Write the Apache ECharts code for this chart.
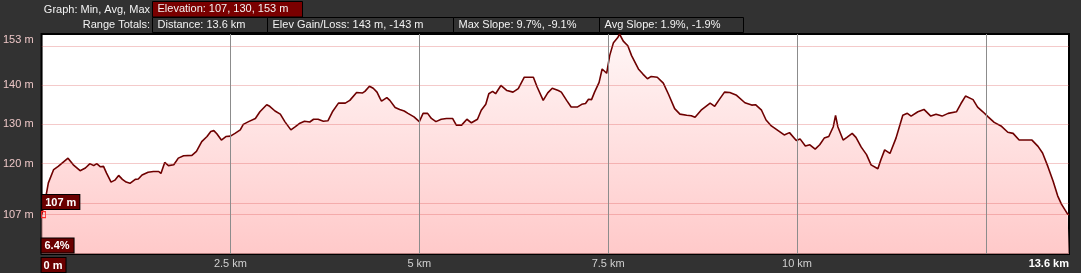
<!DOCTYPE html>
<html>
<head>
<meta charset="utf-8">
<script src="https://cdn.jsdelivr.net/npm/echarts@6/dist/echarts.min.js"></script>
<style>
html,body{margin:0;padding:0;background:#323232;}
#chart{width:1081px;height:273px;}
</style>
</head>
<body>
<div id="chart"></div>
<script>
// ---- data ----
const distKm = [0.00,0.05,0.09,0.16,0.22,0.35,0.42,0.51,0.58,0.64,0.69,0.73,0.78,0.82,0.86,0.92,0.97,1.02,1.07,1.12,1.17,1.24,1.28,1.33,1.41,1.48,1.55,1.58,1.63,1.68,1.75,1.81,1.88,1.99,2.05,2.12,2.19,2.24,2.28,2.32,2.38,2.44,2.50,2.56,2.63,2.67,2.74,2.83,2.89,2.98,3.02,3.09,3.16,3.22,3.30,3.36,3.42,3.48,3.55,3.60,3.66,3.73,3.79,3.85,3.93,4.02,4.08,4.17,4.25,4.28,4.34,4.39,4.44,4.48,4.50,4.57,4.61,4.68,4.74,4.80,4.85,4.93,5.00,5.05,5.11,5.16,5.22,5.29,5.36,5.44,5.49,5.56,5.63,5.69,5.77,5.82,5.88,5.92,5.97,6.01,6.08,6.16,6.24,6.31,6.39,6.51,6.56,6.64,6.70,6.76,6.84,6.88,6.95,7.01,7.09,7.15,7.20,7.24,7.28,7.32,7.38,7.42,7.48,7.52,7.57,7.63,7.65,7.70,7.76,7.81,7.90,7.96,8.02,8.07,8.15,8.23,8.30,8.38,8.45,8.54,8.60,8.65,8.73,8.85,8.91,8.97,9.04,9.11,9.20,9.31,9.40,9.45,9.53,9.59,9.66,9.75,9.83,9.90,9.99,10.04,10.11,10.17,10.24,10.30,10.36,10.42,10.48,10.51,10.54,10.61,10.66,10.73,10.78,10.85,10.92,10.98,11.07,11.11,11.16,11.23,11.31,11.40,11.46,11.51,11.60,11.68,11.77,11.84,11.92,12.00,12.11,12.17,12.23,12.33,12.39,12.46,12.53,12.61,12.70,12.79,12.86,12.94,13.01,13.11,13.19,13.25,13.32,13.39,13.45,13.50,13.58,13.60];
const elevM = [107.0,110.9,115.1,118.5,119.3,121.4,119.7,118.2,118.9,120.0,119.5,120.0,119.2,119.3,117.6,115.3,115.8,117.0,116.0,115.3,115.0,116.0,116.1,117.1,117.8,118.0,118.0,117.5,120.3,119.5,119.7,121.4,122.0,122.1,123.1,125.6,126.9,128.2,128.4,127.6,126.0,126.9,127.0,127.7,128.6,130.0,130.7,131.5,133.2,135.0,134.6,133.4,132.6,130.7,128.6,129.4,130.3,130.8,130.6,131.3,131.3,130.8,130.9,133.2,135.4,135.4,136.1,138.1,138.0,138.4,139.7,139.2,138.2,136.6,135.9,136.8,136.1,134.3,133.8,133.4,132.8,131.9,130.7,132.8,132.8,131.5,130.7,131.3,131.5,131.5,129.8,129.8,131.3,130.4,131.3,133.6,135.1,137.8,138.4,137.8,139.9,138.6,138.2,139.1,142.0,142.0,139.5,136.1,138.0,139.2,138.6,138.2,136.1,134.4,134.4,135.1,135.3,136.4,136.3,138.2,140.7,144.1,143.0,147.5,150.8,152.2,153.0,151.2,150.0,147.5,144.1,142.8,141.6,142.2,142.0,140.5,137.6,134.0,132.6,132.3,132.2,131.8,133.6,135.4,134.6,136.3,138.2,138.1,137.4,135.5,134.9,135.0,133.6,131.1,129.6,128.4,127.3,127.9,125.9,126.3,124.5,124.8,123.7,124.8,126.5,126.9,129.4,132.3,129.4,126.0,126.7,127.7,126.7,124.2,122.3,119.7,118.7,121.0,123.5,122.6,126.5,132.3,132.8,132.1,133.2,133.8,132.1,132.6,132.1,132.8,133.2,135.3,137.2,136.3,134.4,133.2,131.9,130.5,129.6,128.0,127.7,126.0,126.0,126.0,124.4,122.7,119.3,115.5,111.8,109.7,107.2,107.0];
const yTickLabels = [107, 120, 130, 140, 153];
const yGridValues = [107, 110, 120, 130, 140, 150];
const xTickLabels = [0, 2.5, 5, 7.5, 10, 13.6];
const xGridValues = [2.5, 5, 7.5, 10, 12.5];
const headerRow1Label = 'Graph: Min, Avg, Max';
const headerRow1Boxes = ['Elevation: 107, 130, 153 m'];
const headerRow2Label = 'Range Totals:';
const headerRow2Boxes = ['Distance: 13.6 km', 'Elev Gain/Loss: 143 m, -143 m', 'Max Slope: 9.7%, -9.1%', 'Avg Slope: 1.9%, -1.9%'];
const slopeLabel = '6.4%';

// ---- chart ----
const FONT = '"Liberation Sans", Arial, sans-serif';
const chart = echarts.init(document.getElementById('chart'), null, {renderer: 'canvas'});
const series = distKm.map((d, i) => [d, elevM[i]]);

function boxGroup(labels, widths, x0, y, h, fill) {
  const els = [];
  let x = x0;
  labels.forEach((t, i) => {
    els.push({type: 'rect', shape: {x: x, y: y, width: widths[i], height: h},
      style: {fill: fill[i], stroke: '#000', lineWidth: 1}, silent: true});
    els.push({type: 'text', x: x + 5, y: y + h / 2,
      style: {text: t, fill: '#f2f2f2', font: '11px ' + FONT, verticalAlign: 'middle'}, silent: true});
    x += widths[i];
  });
  return els;
}

const gridLines = yGridValues.map(v => ({yAxis: v, lineStyle: {color: 'rgba(220,80,80,0.3)', width: 1, type: 'solid'}}))
  .concat(xGridValues.map(v => ({xAxis: v, lineStyle: {color: '#8c8c8c', width: 1, type: 'solid'}})));

const option = {
  backgroundColor: '#323232',
  animation: false,
  grid: {left: 41, right: 12, top: 34, bottom: 18, show: true, backgroundColor: '#ffffff', borderColor: '#000', borderWidth: 2},
  xAxis: {
    type: 'value', min: 0, max: 13.6,
    axisLine: {show: false}, axisTick: {show: false}, splitLine: {show: false},
    axisLabel: {
      customValues: xTickLabels,
      margin: 4,
      alignMinLabel: 'left', alignMaxLabel: 'right',
      fontFamily: FONT, fontSize: 11, color: '#d0d0d0',
      formatter: v => v === 0 ? '{z|0 m}' : (v === 13.6 ? '{e|' + v + ' km}' : v + ' km'),
      rich: {
        z: {color: '#fff', fontWeight: 'bold', fontSize: 11, fontFamily: FONT, backgroundColor: '#6a0000', borderColor: '#000', borderWidth: 1, padding: [2, 3, 1, 2]},
        e: {color: '#fff', fontWeight: 'bold', fontSize: 11, fontFamily: FONT}
      }
    }
  },
  yAxis: {
    type: 'value', min: 97, max: 153,
    axisLine: {show: false}, axisTick: {show: false}, splitLine: {show: false},
    axisLabel: {
      customValues: yTickLabels,
      margin: 8,
      verticalAlignMaxLabel: 'top',
      fontFamily: FONT, fontSize: 11, color: '#ecc6c6',
      formatter: '{value} m'
    }
  },
  series: [{
    type: 'line',
    data: series,
    symbol: 'none',
    smooth: false,
    lineStyle: {color: '#6e0000', width: 1.6},
    areaStyle: {
      origin: 'start',
      color: new echarts.graphic.LinearGradient(0, 0, 0, 1, [
        {offset: 0, color: '#fff3f3'},
        {offset: 1, color: '#ffb2b2'}
      ])
    },
    markLine: {silent: true, symbol: 'none', label: {show: false}, animation: false, data: gridLines},
    markPoint: {
      symbol: 'rect', symbolSize: [4, 6], symbolOffset: [2, 0], silent: true,
      itemStyle: {color: 'rgba(0,0,0,0)', borderColor: '#ff2a2a', borderWidth: 1},
      label: {
        show: true, position: [1, -16], align: 'left', verticalAlign: 'top',
        formatter: p => p.value + ' m',
        color: '#fff', fontFamily: FONT, fontSize: 11, fontWeight: 'bold',
        backgroundColor: '#6a0000', borderColor: '#000', borderWidth: 1, padding: [2, 3, 1, 3]
      },
      data: [{coord: [distKm[0], elevM[0]], value: elevM[0]}]
    }
  }],
  graphic: [
    {type: 'text', x: 150, y: 9.5, style: {text: headerRow1Label, fill: '#f2f2f2', font: '11px ' + FONT, align: 'right', verticalAlign: 'middle'}, silent: true},
    {type: 'text', x: 150, y: 25, style: {text: headerRow2Label, fill: '#f2f2f2', font: '11px ' + FONT, align: 'right', verticalAlign: 'middle'}, silent: true}
  ].concat(
    boxGroup(headerRow1Boxes, [150], 152.5, 1.5, 15.5, ['#7a0000']),
    boxGroup(headerRow2Boxes, [115, 186, 146, 144], 152.5, 17.5, 15, ['#323232', '#323232', '#323232', '#323232']),
    [{type: 'text', x: 41.5, y: 238.5, z: 100,
      style: {text: slopeLabel, fill: '#fff', font: 'bold 11px ' + FONT, backgroundColor: '#6a0000', borderColor: '#000', borderWidth: 1, padding: [2, 4, 1, 3]}, silent: true}]
  )
};
chart.setOption(option);
</script>
</body>
</html>
